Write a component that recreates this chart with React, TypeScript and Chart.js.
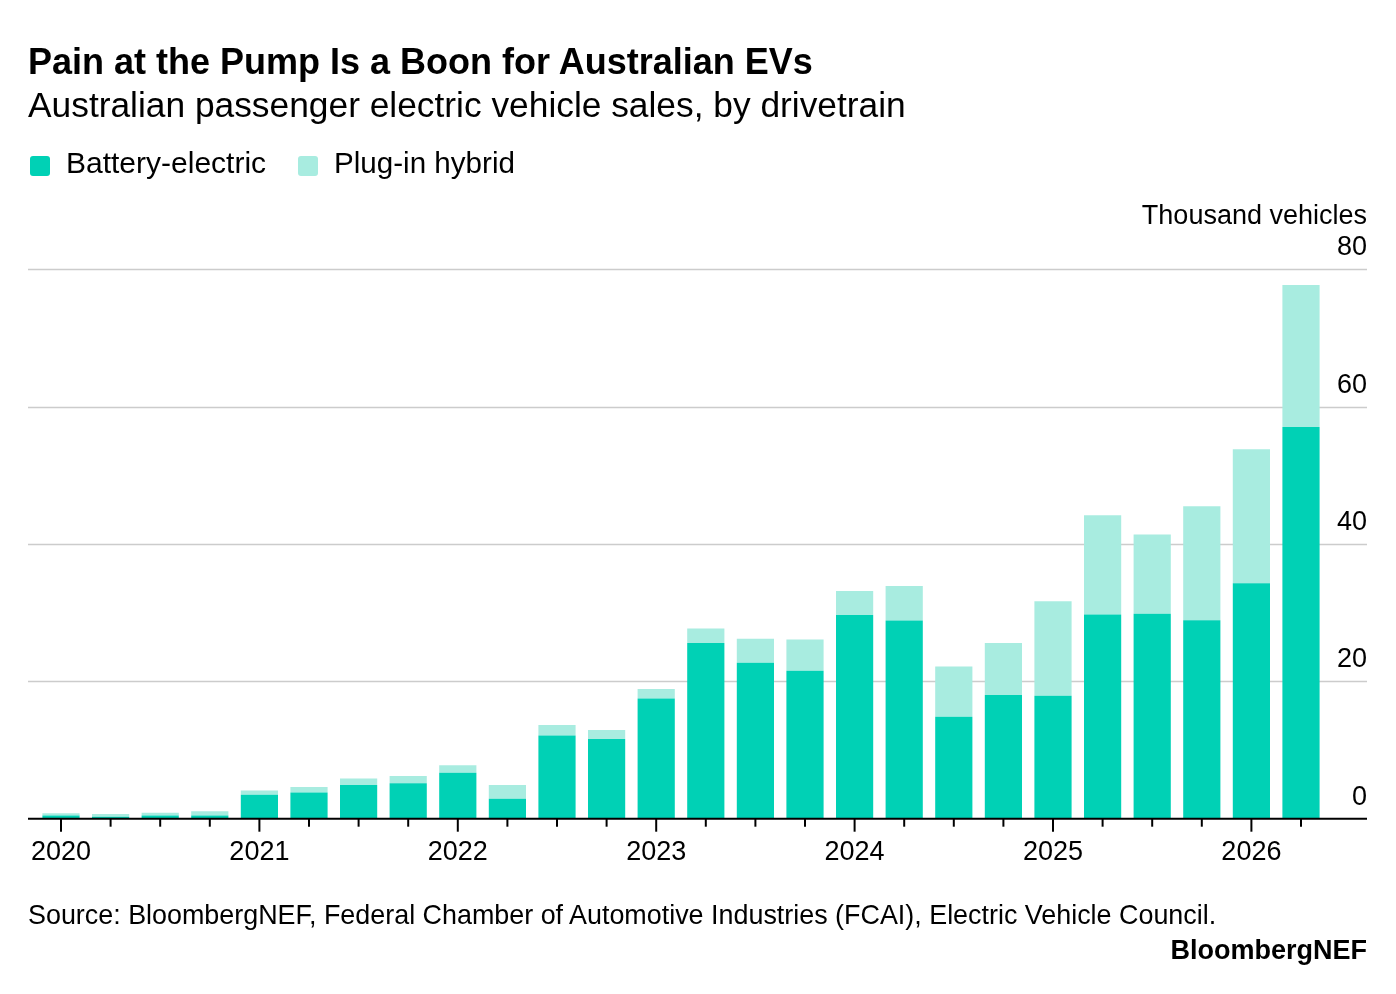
import React, { useEffect, useRef } from "react";
import { Chart, registerables } from "chart.js";

Chart.register(...registerables);

// ---------- data (thousand vehicles) ----------
const quarters = [
  "2020 Q1", "2020 Q2", "2020 Q3", "2020 Q4",
  "2021 Q1", "2021 Q2", "2021 Q3", "2021 Q4",
  "2022 Q1", "2022 Q2", "2022 Q3", "2022 Q4",
  "2023 Q1", "2023 Q2", "2023 Q3", "2023 Q4",
  "2024 Q1", "2024 Q2", "2024 Q3", "2024 Q4",
  "2025 Q1", "2025 Q2", "2025 Q3", "2025 Q4",
  "2026 Q1", "2026 Q2",
];

const batteryElectric = [
  0.45, 0.3, 0.45, 0.45,
  3.5, 3.8, 4.9, 5.15,
  6.7, 2.9, 12.1, 11.6,
  17.5, 25.6, 22.7, 21.55,
  29.65, 28.85, 14.85, 18.0,
  17.9, 29.75, 29.85, 28.9,
  34.3, 57.05,
];

const plugInHybrid = [
  0.35, 0.4, 0.4, 0.65,
  0.6, 0.8, 0.95, 1.05,
  1.1, 2.0, 1.55, 1.3,
  1.4, 2.1, 3.5, 4.55,
  3.5, 5.05, 7.3, 7.6,
  13.75, 14.45, 11.55, 16.6,
  19.5, 20.65,
];

const yTickValues = [0, 20, 40, 60, 80];

const seriesNames = ["Battery-electric", "Plug-in hybrid"];

// ---------- style ----------
const BEV_COLOR = "rgb(0, 209, 181)";
const PHEV_COLOR = "rgb(168, 236, 224)";
const GRID_COLOR = "#cccccc";
const FONT = "'Liberation Sans', Arial, Helvetica, sans-serif";
const W = 1396;
const H = 994;
const LINE_LEFT = 28;
const LINE_RIGHT = 1367;

const yearOf = (q: string) => q.slice(0, 4);
const isYearStart = (q: string) => q.endsWith("Q1");

const decorPlugin = {
  id: "decor",
  beforeDatasetsDraw(chart: any) {
    const { ctx } = chart;
    const y = chart.scales.y;
    ctx.save();
    ctx.strokeStyle = GRID_COLOR;
    ctx.lineWidth = 1.6;
    yTickValues.forEach((v) => {
      if (v === 0) return;
      const py = Math.round(y.getPixelForValue(v)) + 0.5;
      ctx.beginPath();
      ctx.moveTo(LINE_LEFT, py);
      ctx.lineTo(LINE_RIGHT, py);
      ctx.stroke();
    });
    ctx.fillStyle = "#000";
    ctx.font = `27px ${FONT}`;
    ctx.textAlign = "right";
    ctx.textBaseline = "alphabetic";
    yTickValues.forEach((v) => {
      ctx.fillText(String(v), LINE_RIGHT, y.getPixelForValue(v) - 14);
    });
    ctx.restore();
  },
  afterDatasetsDraw(chart: any) {
    const { ctx } = chart;
    const x = chart.scales.x;
    const y = chart.scales.y;
    const base = y.getPixelForValue(0);
    ctx.save();
    ctx.strokeStyle = "#000";
    ctx.lineWidth = 2;
    ctx.beginPath();
    ctx.moveTo(LINE_LEFT, base);
    ctx.lineTo(LINE_RIGHT, base);
    ctx.stroke();
    ctx.lineWidth = 2;
    quarters.forEach((q, i) => {
      const px = x.getPixelForValue(i);
      const len = isYearStart(q) ? 13 : 8;
      ctx.beginPath();
      ctx.moveTo(px, base);
      ctx.lineTo(px, base + len);
      ctx.stroke();
    });
    ctx.fillStyle = "#000";
    ctx.font = `27px ${FONT}`;
    ctx.textAlign = "center";
    ctx.textBaseline = "alphabetic";
    quarters.forEach((q, i) => {
      if (!isYearStart(q)) return;
      ctx.fillText(yearOf(q), x.getPixelForValue(i), base + 41);
    });
    ctx.restore();
  },
};

function EVChart() {
  const ref = useRef<HTMLCanvasElement | null>(null);
  useEffect(() => {
    if (!ref.current) return;
    const chart = new Chart(ref.current, {
      type: "bar",
      data: {
        labels: quarters,
        datasets: [
          {
            label: seriesNames[0],
            data: batteryElectric,
            backgroundColor: BEV_COLOR,
            borderWidth: 0,
            categoryPercentage: 1,
            barPercentage: 0.75,
          },
          {
            label: seriesNames[1],
            data: plugInHybrid,
            backgroundColor: PHEV_COLOR,
            borderWidth: 0,
            categoryPercentage: 1,
            barPercentage: 0.75,
          },
        ],
      },
      options: {
        animation: false,
        responsive: false,
        maintainAspectRatio: false,
        layout: { padding: { left: 36.2, right: 70.2, top: 269.3, bottom: 175.3 } },
        plugins: { legend: { display: false }, tooltip: { enabled: false } },
        scales: {
          x: { type: "category", stacked: true, offset: true, display: false },
          y: { type: "linear", stacked: true, min: 0, max: 80, display: false },
        },
      },
      plugins: [decorPlugin],
    });
    return () => chart.destroy();
  }, []);
  return (
    <canvas
      ref={ref}
      width={W}
      height={H}
      style={{ position: "absolute", left: 0, top: 0, width: W, height: H }}
    />
  );
}

const textBase: React.CSSProperties = {
  position: "absolute",
  whiteSpace: "nowrap",
  lineHeight: 1,
  fontFamily: FONT,
  color: "#000",
  margin: 0,
};

export default function App() {
  return (
    <div style={{ position: "absolute", left: 0, top: 0, width: W, height: H, background: "#fff", overflow: "hidden" }}>
      <EVChart />
      <div style={{ ...textBase, left: 28, top: 44.3, fontSize: 36, fontWeight: 700 }}>
        Pain at the Pump Is a Boon for Australian EVs
      </div>
      <div style={{ ...textBase, left: 28, top: 86.6, fontSize: 35.35 }}>
        Australian passenger electric vehicle sales, by drivetrain
      </div>
      <div style={{ position: "absolute", left: 30, top: 155.7, width: 20, height: 20, borderRadius: 3, background: BEV_COLOR }} />
      <div style={{ ...textBase, left: 66, top: 148.4, fontSize: 30 }}>{seriesNames[0]}</div>
      <div style={{ position: "absolute", left: 298, top: 155.7, width: 20, height: 20, borderRadius: 3, background: PHEV_COLOR }} />
      <div style={{ ...textBase, left: 334, top: 148.4, fontSize: 29.6 }}>{seriesNames[1]}</div>
      <div style={{ ...textBase, right: W - LINE_RIGHT, top: 201.6, fontSize: 27 }}>Thousand vehicles</div>
      <div style={{ ...textBase, left: 28, top: 901.9, fontSize: 26.9 }}>
        Source: BloombergNEF, Federal Chamber of Automotive Industries (FCAI), Electric Vehicle Council.
      </div>
      <div style={{ ...textBase, right: W - LINE_RIGHT, top: 936.9, fontSize: 27, fontWeight: 700 }}>BloombergNEF</div>
    </div>
  );
}
